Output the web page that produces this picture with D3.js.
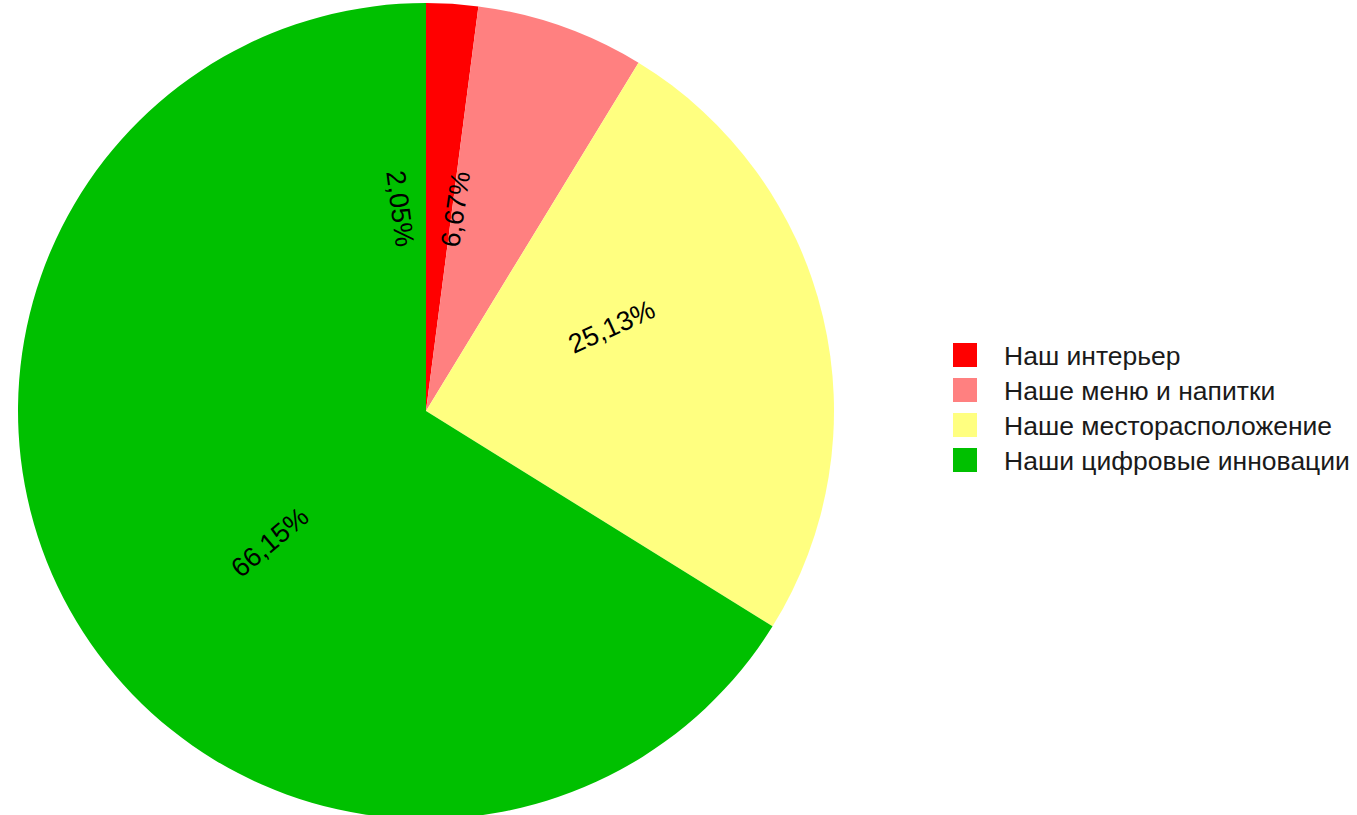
<!DOCTYPE html>
<html><head><meta charset="utf-8">
<script src="https://cdn.jsdelivr.net/npm/d3@7"></script>
<style>body{margin:0;background:#fff}svg{display:block}</style>
</head><body>
<svg id="c" width="1357" height="815"></svg>
<script>
const categories = ["Наш интерьер", "Наше меню и напитки", "Наше месторасположение", "Наши цифровые инновации"];
const values = [2.05, 6.67, 25.13, 66.15];
const labels = ["2,05%", "6,67%", "25,13%", "66,15%"];
const colors = ["#FF0000", "#FF8080", "#FFFF80", "#00C000"];

const svg = d3.select("#c");
const cx = 426, cy = 411, R = 408;
const labelShift = -11 * Math.PI / 180;

const pie = d3.pie().sort(null).value(d => d)(values);
const arc = d3.arc().innerRadius(0).outerRadius(R);
const g = svg.append("g").attr("transform", `translate(${cx},${cy})`);
g.selectAll("path").data(pie).join("path")
  .attr("d", arc).attr("fill", (d, i) => colors[i]);

g.selectAll("text").data(pie).join("text")
  .each(function(d, i) {
    const a = (d.startAngle + d.endAngle) / 2 + labelShift;
    const r = R / 2;
    const x = r * Math.sin(a), y = -r * Math.cos(a);
    let rot = a * 180 / Math.PI - 90;
    if (rot < -90) rot += 180;
    if (rot > 90) rot -= 180;
    d3.select(this).attr("transform", `translate(${x},${y}) rotate(${rot})`)
      .attr("text-anchor", "middle").attr("dominant-baseline", "central")
      .attr("font-family", "Liberation Sans, Arial, sans-serif").attr("font-size", 27)
      .attr("fill", "#000").text(labels[i]);
  });

const leg = svg.append("g").attr("transform", "translate(953,343)");
const items = leg.selectAll("g").data(categories).join("g")
  .attr("transform", (d, i) => `translate(0,${i * 35})`);
items.append("rect").attr("width", 24).attr("height", 24).attr("fill", (d, i) => colors[i]);
items.append("text").attr("x", 51).attr("y", 13).attr("dominant-baseline", "central")
  .attr("font-family", "Liberation Sans, Arial, sans-serif").attr("font-size", 26.5)
  .attr("fill", "#1a1a1a").text(d => d);
</script>
</body></html>
